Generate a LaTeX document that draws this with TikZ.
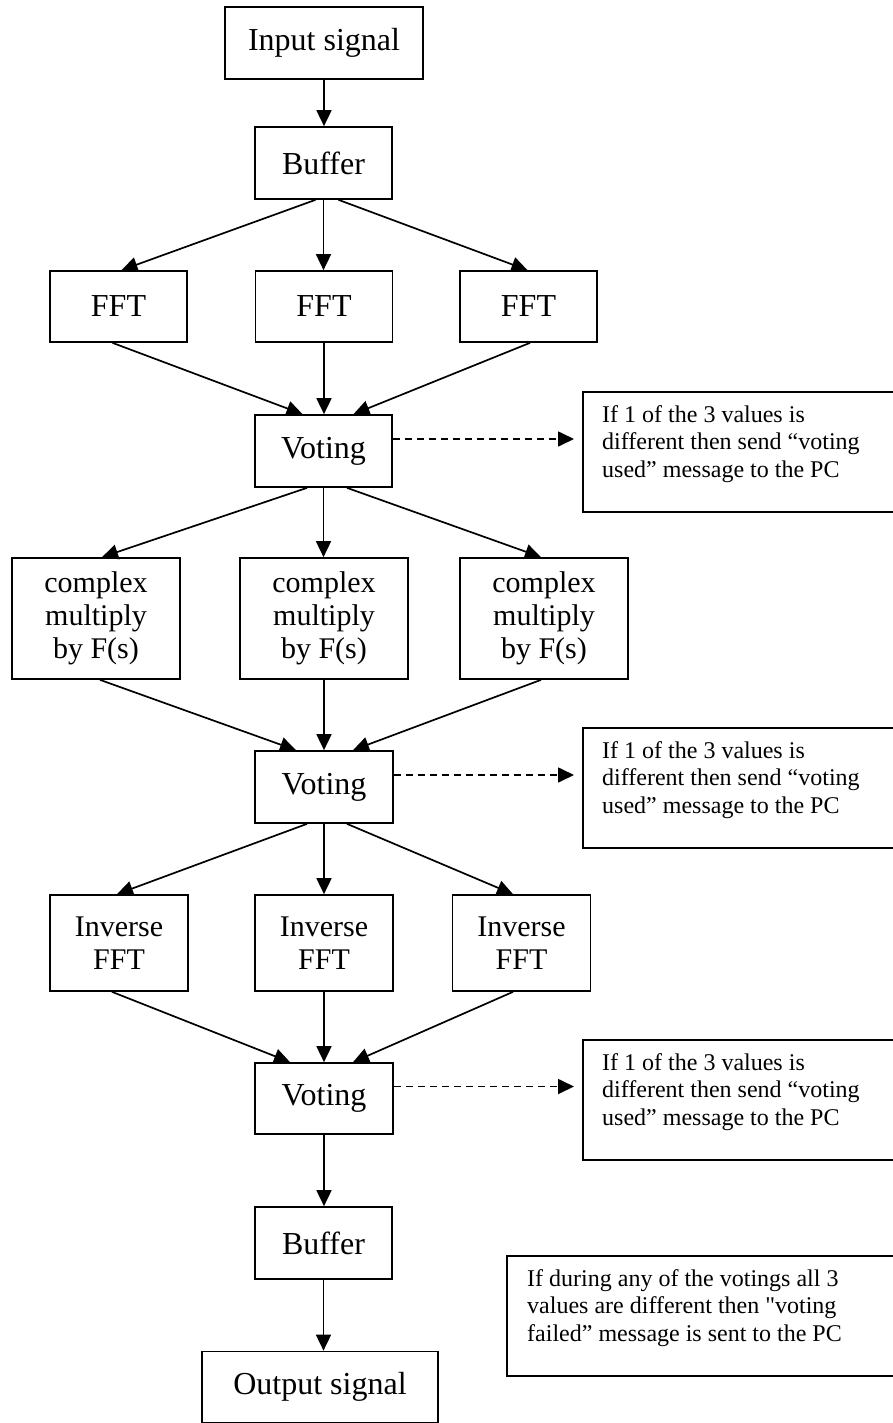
\documentclass[tikz,border=0pt]{standalone}
\usepackage{fontspec}
\setmainfont{Liberation Serif}
\newfontfamily\notefont{Liberation Serif}
\usetikzlibrary{arrows.meta}
\begin{document}
\begin{tikzpicture}[x=1pt,y=-1pt,
  box/.style={draw, line width=1.7pt, inner sep=0pt, align=center, font=\fontsize{32}{33}\selectfont},
  mbox/.style={box, font=\fontsize{30}{33}\selectfont},
  note/.style={draw, line width=1.7pt, inner sep=0pt},
  notetext/.style={align=left, inner sep=0pt, anchor=north west, font=\notefont\fontsize{24}{27.5}\selectfont},
  arr/.style={line width=1.7pt, -{Triangle[length=16pt 0 0,width=15pt 0 0]}},
  darr/.style={arr, dash pattern=on 7pt off 5pt}]
\useasboundingbox (0,0) rectangle (893,1423);
% main column
\node[box, minimum width=198pt, minimum height=72pt] (in) at (324,43) {Input signal};
\node[box, minimum width=137pt, minimum height=72pt] (buf1) at (323.5,163) {Buffer};
\node[box, minimum width=137pt, minimum height=71pt] (fft1) at (118.5,306.5) {FFT};
\node[box, minimum width=137pt, minimum height=71pt] (fft2) at (324,306.5) {FFT};
\node[box, minimum width=137pt, minimum height=71pt] (fft3) at (528.5,306.5) {FFT};
\node[box, minimum width=137pt, minimum height=72pt] (vot1) at (323.5,451) {Voting};
\node[mbox, minimum width=168pt, minimum height=121pt] (cm1) at (96,618.5) {complex\\multiply\\by F(s)};
\node[mbox, minimum width=168pt, minimum height=121pt] (cm2) at (324,618.5) {complex\\multiply\\by F(s)};
\node[mbox, minimum width=168pt, minimum height=121pt] (cm3) at (544,618.5) {complex\\multiply\\by F(s)};
\node[box, minimum width=138pt, minimum height=72pt] (vot2) at (324,787) {Voting};
\node[mbox, minimum width=138pt, minimum height=96pt] (inv1) at (119,943) {Inverse\\FFT};
\node[mbox, minimum width=138pt, minimum height=96pt] (inv2) at (324,943) {Inverse\\FFT};
\node[mbox, minimum width=138pt, minimum height=96pt] (inv3) at (521.5,943) {Inverse\\FFT};
\node[box, minimum width=138pt, minimum height=71pt] (vot3) at (324,1098.5) {Voting};
\node[box, minimum width=137pt, minimum height=72pt] (buf2) at (323.5,1243) {Buffer};
\node[box, minimum width=236pt, minimum height=71pt] (out) at (320,1387) {Output signal};
% notes
\node[note, minimum width=318pt, minimum height=120pt, anchor=north west] (s1) at (582,391) {};
\node[notetext] (t1) at ([xshift=20pt,yshift=-14pt]s1.north west) {If 1 of the 3 values is\\different then send “voting\\used” message to the PC};
\node[note, minimum width=318pt, minimum height=120pt, anchor=north west] (s2) at (582,727) {};
\node[notetext] (t2) at ([xshift=20pt,yshift=-14pt]s2.north west) {If 1 of the 3 values is\\different then send “voting\\used” message to the PC};
\node[note, minimum width=318pt, minimum height=120pt, anchor=north west] (s3) at (582,1039) {};
\node[notetext] (t3) at ([xshift=20pt,yshift=-14pt]s3.north west) {If 1 of the 3 values is\\different then send “voting\\used” message to the PC};
\node[note, minimum width=394pt, minimum height=120pt, anchor=north west] (fail) at (506,1255) {};
\node[notetext] (tf) at ([xshift=21pt,yshift=-14pt]fail.north west) {If during any of the votings all 3\\values are different then "voting\\failed” message is sent to the PC};
% connectors
\draw[arr] (in.south) -- (in.south |- buf1.north);
\draw[arr] ([xshift=-8pt]buf1.south) -- ([xshift=3pt]fft1.north);
\draw[arr] (buf1.south) -- (buf1.south |- fft2.north);
\draw[arr] ([xshift=15pt]buf1.south) -- ([xshift=-1pt]fft3.north);
\draw[arr] ([xshift=-6pt]fft1.south) -- ([xshift=-21pt]vot1.north);
\draw[arr] (fft2.south) -- (fft2.south |- vot1.north);
\draw[arr] ([xshift=1.5pt]fft3.south) -- ([xshift=30pt]vot1.north);
\coordinate (d1) at ([yshift=12pt]vot1.east);
\draw[darr] (d1) -- ([xshift=-8pt]s1.west |- d1);
\draw[arr] ([xshift=-16.5pt]vot1.south) -- ([xshift=6pt]cm1.north);
\draw[arr] (vot1.south) -- (vot1.south |- cm2.north);
\draw[arr] ([xshift=23.5pt]vot1.south) -- ([xshift=-3pt]cm3.north);
\draw[arr] ([xshift=4pt]cm1.south) -- ([xshift=-28pt]vot2.north);
\draw[arr] (cm2.south) -- (cm2.south |- vot2.north);
\draw[arr] ([xshift=-3pt]cm3.south) -- ([xshift=29pt]vot2.north);
\coordinate (d2) at ([yshift=12pt]vot2.east);
\draw[darr] (d2) -- ([xshift=-8pt]s2.west |- d2);
\draw[arr] ([xshift=-17pt]vot2.south) -- ([xshift=-2pt]inv1.north);
\draw[arr] (vot2.south) -- (vot2.south |- inv2.north);
\draw[arr] ([xshift=23pt]vot2.south) -- ([xshift=-8.5pt]inv3.north);
\draw[arr] ([xshift=-7pt]inv1.south) -- ([xshift=-34pt]vot3.north);
\draw[arr] (inv2.south) -- (inv2.south |- vot3.north);
\draw[arr] ([xshift=-8.5pt]inv3.south) -- ([xshift=29pt]vot3.north);
\coordinate (d3) at ([yshift=12pt]vot3.east);
\draw[darr] (d3) -- ([xshift=-8pt]s3.west |- d3);
\draw[arr] (vot3.south) -- (vot3.south |- buf2.north);
\draw[arr] (buf2.south) -- (buf2.south |- out.north);
\end{tikzpicture}
\end{document}
